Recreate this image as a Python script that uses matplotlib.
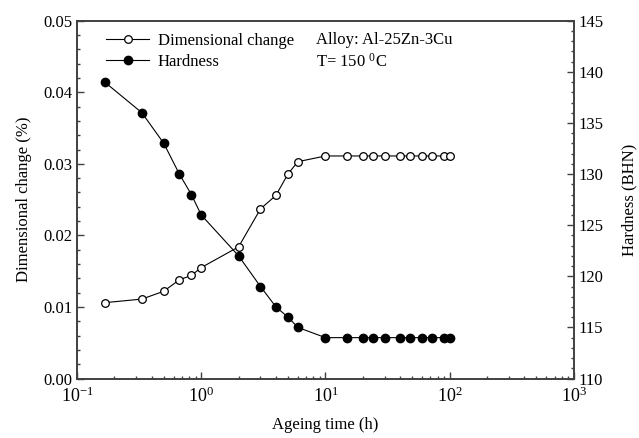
import numpy as np
import matplotlib
matplotlib.use('Agg')
import matplotlib.pyplot as plt
from matplotlib.lines import Line2D
from matplotlib.ticker import MultipleLocator, LogLocator, NullFormatter

plt.rcParams['font.family'] = ['Liberation Serif', 'DejaVu Serif']
plt.rcParams['mathtext.fontset'] = 'custom'
plt.rcParams['mathtext.rm'] = 'Liberation Serif'
plt.rcParams['mathtext.it'] = 'Liberation Serif:italic'
plt.rcParams['axes.unicode_minus'] = False

# ageing times (h)
time_h = [0.167, 0.333, 0.5, 0.667, 0.833, 1, 2, 3, 4, 5, 6,
          10, 15, 20, 24, 30, 40, 48, 60, 72, 90, 100]
# dimensional change (%)
dim_change = [0.0106, 0.0111, 0.0122, 0.0138, 0.0144, 0.0155, 0.0184,
              0.0237, 0.0256, 0.0286, 0.0303,
              0.0311, 0.0311, 0.0311, 0.0311, 0.0311, 0.0311, 0.0311,
              0.0311, 0.0311, 0.0311, 0.0311]
# hardness (BHN)
hardness = [139, 136, 133, 130, 128, 126, 122, 119, 117, 116, 115,
            114, 114, 114, 114, 114, 114, 114, 114, 114, 114, 114]

fig = plt.figure(figsize=(6.39, 4.38), dpi=100)
ax = fig.add_axes([0.1205, 0.1358, 0.7775, 0.8169])
ax2 = ax.twinx()

ax.plot(time_h, dim_change, color='black', lw=0.8, marker='o', ms=5.5,
        mfc='white', mec='black', mew=0.9, zorder=3)
ax2.plot(time_h, hardness, color='black', lw=0.8, marker='o', ms=6,
         mfc='black', mec='black', zorder=3)

ax.set_xscale('log')
ax.set_xlim(0.1, 1000)
ax.set_ylim(0, 0.05)
ax2.set_ylim(110, 145)

ax.yaxis.set_major_locator(MultipleLocator(0.01))
ax.yaxis.set_minor_locator(MultipleLocator(0.002))
ax.yaxis.set_major_formatter(plt.FormatStrFormatter('%.2f'))
ax2.yaxis.set_major_locator(MultipleLocator(5))
ax2.yaxis.set_minor_locator(MultipleLocator(1))
ax.xaxis.set_major_locator(LogLocator(base=10, numticks=10))
ax.xaxis.set_minor_locator(LogLocator(base=10, subs=np.arange(2, 10), numticks=20))
ax.xaxis.set_minor_formatter(NullFormatter())

for a in (ax, ax2):
    for s in a.spines.values():
        s.set_color('#404040')
        s.set_linewidth(1.2)
ax.tick_params(axis='both', which='both', direction='in', labelsize=12,
               color='#404040', top=False, right=False)
ax.tick_params(axis='both', which='major', length=5, width=1)
ax.tick_params(axis='both', which='minor', length=2.5, width=1)
ax.tick_params(axis='x', pad=6, labelsize=13)
ax2.tick_params(axis='y', which='both', direction='in', labelsize=12,
                color='#404040')
ax2.tick_params(axis='y', which='major', length=5, width=1)
ax2.tick_params(axis='y', which='minor', length=2.5, width=1)

ax.set_xlabel('Ageing time (h)', fontsize=12, labelpad=8)
ax.set_ylabel('Dimensional change (%)', fontsize=12, labelpad=8)
ax2.set_ylabel('Hardness (BHN)', fontsize=12, labelpad=13)

handles = [
    Line2D([], [], color='black', lw=0.8, marker='o', ms=5.5, mfc='white',
           mec='black', mew=0.9),
    Line2D([], [], color='black', lw=0.8, marker='o', ms=6, mfc='black',
           mec='black'),
]
ax.legend(handles, ['Dimensional change', 'Hardness'], loc='upper left',
          bbox_to_anchor=(0.045, 0.985), frameon=False, fontsize=12,
          handlelength=2.6, handletextpad=0.5, labelspacing=0.3,
          borderaxespad=0)

ax.text(0.482, 0.945, 'Alloy: Al-25Zn-3Cu', transform=ax.transAxes,
        fontsize=12, va='center', ha='left')
ax.text(0.482, 0.884, 'T= 150 $^{0}$C', transform=ax.transAxes,
        fontsize=12, va='center', ha='left')

fig.savefig('out.png', dpi=100)
